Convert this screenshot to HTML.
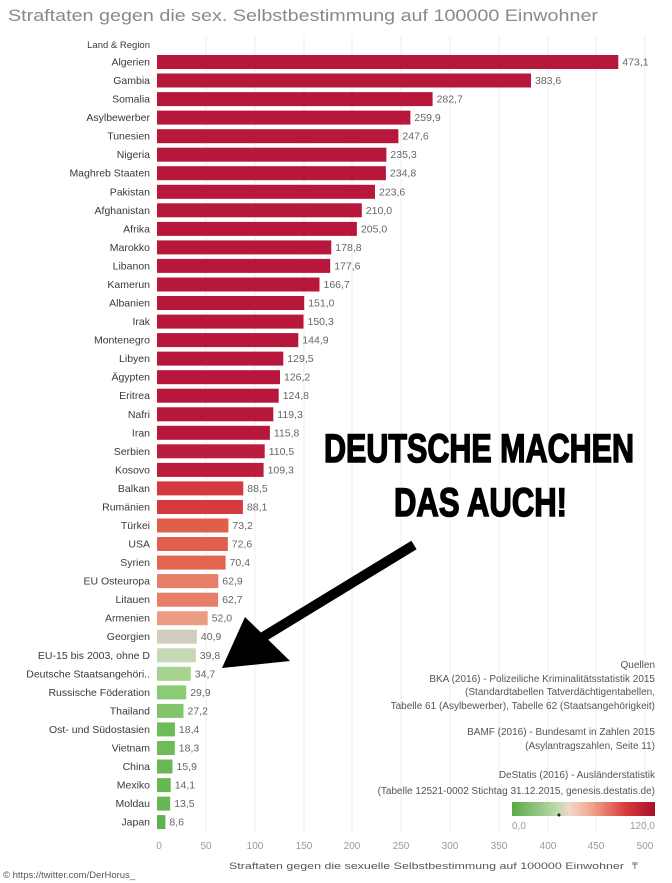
<!DOCTYPE html>
<html><head><meta charset="utf-8"><style>
html,body{margin:0;padding:0;background:#fff;}
svg{display:block;}
text{font-family:"Liberation Sans",sans-serif;}
.l{fill:#3a3a3a;text-anchor:end;font-size:10.5px;}
.v{fill:#666;font-size:10.5px;}
</style></head><body>
<svg width="672" height="883" viewBox="0 0 672 883" xmlns="http://www.w3.org/2000/svg">
<rect width="672" height="883" fill="#fff"/>
<text x="8" y="21" font-size="17" fill="#8a8a8a" textLength="590" lengthAdjust="spacingAndGlyphs">Straftaten gegen die sex. Selbstbestimmung auf 100000 Einwohner</text>
<g stroke="#ececec" stroke-width="1">
<line x1="206" y1="36" x2="206" y2="832"/><line x1="255" y1="36" x2="255" y2="832"/><line x1="304" y1="36" x2="304" y2="832"/><line x1="352" y1="36" x2="352" y2="832"/><line x1="401" y1="36" x2="401" y2="832"/><line x1="450" y1="36" x2="450" y2="832"/><line x1="499" y1="36" x2="499" y2="832"/><line x1="548" y1="36" x2="548" y2="832"/><line x1="596" y1="36" x2="596" y2="832"/><line x1="645" y1="36" x2="645" y2="832"/>
</g>
<text x="150" y="48" class="l" style="font-size:9.5px">Land &amp; Region</text>

<g transform="translate(0,62.0)"><text x="150" y="3.5" class="l">Algerien</text><rect x="157" y="-7" width="461.3" height="14" fill="#b8173c"/><text x="622.3" y="3.5" class="v">473,1</text></g>
<g transform="translate(0,80.5)"><text x="150" y="3.5" class="l">Gambia</text><rect x="157" y="-7" width="374.0" height="14" fill="#b8173c"/><text x="535" y="3.5" class="v">383,6</text></g>
<g transform="translate(0,99.1)"><text x="150" y="3.5" class="l">Somalia</text><rect x="157" y="-7" width="275.6" height="14" fill="#b8173c"/><text x="436.6" y="3.5" class="v">282,7</text></g>
<g transform="translate(0,117.6)"><text x="150" y="3.5" class="l">Asylbewerber</text><rect x="157" y="-7" width="253.4" height="14" fill="#b8173c"/><text x="414.4" y="3.5" class="v">259,9</text></g>
<g transform="translate(0,136.2)"><text x="150" y="3.5" class="l">Tunesien</text><rect x="157" y="-7" width="241.4" height="14" fill="#b8173c"/><text x="402.4" y="3.5" class="v">247,6</text></g>
<g transform="translate(0,154.7)"><text x="150" y="3.5" class="l">Nigeria</text><rect x="157" y="-7" width="229.4" height="14" fill="#b8173c"/><text x="390.4" y="3.5" class="v">235,3</text></g>
<g transform="translate(0,173.2)"><text x="150" y="3.5" class="l">Maghreb Staaten</text><rect x="157" y="-7" width="228.9" height="14" fill="#b8173c"/><text x="389.9" y="3.5" class="v">234,8</text></g>
<g transform="translate(0,191.8)"><text x="150" y="3.5" class="l">Pakistan</text><rect x="157" y="-7" width="218.0" height="14" fill="#b8173c"/><text x="379" y="3.5" class="v">223,6</text></g>
<g transform="translate(0,210.3)"><text x="150" y="3.5" class="l">Afghanistan</text><rect x="157" y="-7" width="204.8" height="14" fill="#b8173c"/><text x="365.8" y="3.5" class="v">210,0</text></g>
<g transform="translate(0,228.9)"><text x="150" y="3.5" class="l">Afrika</text><rect x="157" y="-7" width="199.9" height="14" fill="#b8173c"/><text x="360.9" y="3.5" class="v">205,0</text></g>
<g transform="translate(0,247.4)"><text x="150" y="3.5" class="l">Marokko</text><rect x="157" y="-7" width="174.3" height="14" fill="#b8173c"/><text x="335.3" y="3.5" class="v">178,8</text></g>
<g transform="translate(0,265.9)"><text x="150" y="3.5" class="l">Libanon</text><rect x="157" y="-7" width="173.2" height="14" fill="#b8173c"/><text x="334.2" y="3.5" class="v">177,6</text></g>
<g transform="translate(0,284.5)"><text x="150" y="3.5" class="l">Kamerun</text><rect x="157" y="-7" width="162.5" height="14" fill="#b8173c"/><text x="323.5" y="3.5" class="v">166,7</text></g>
<g transform="translate(0,303.0)"><text x="150" y="3.5" class="l">Albanien</text><rect x="157" y="-7" width="147.2" height="14" fill="#b8173c"/><text x="308.2" y="3.5" class="v">151,0</text></g>
<g transform="translate(0,321.6)"><text x="150" y="3.5" class="l">Irak</text><rect x="157" y="-7" width="146.5" height="14" fill="#b8173c"/><text x="307.5" y="3.5" class="v">150,3</text></g>
<g transform="translate(0,340.1)"><text x="150" y="3.5" class="l">Montenegro</text><rect x="157" y="-7" width="141.3" height="14" fill="#b8173c"/><text x="302.3" y="3.5" class="v">144,9</text></g>
<g transform="translate(0,358.6)"><text x="150" y="3.5" class="l">Libyen</text><rect x="157" y="-7" width="126.3" height="14" fill="#b8173c"/><text x="287.3" y="3.5" class="v">129,5</text></g>
<g transform="translate(0,377.2)"><text x="150" y="3.5" class="l">Ägypten</text><rect x="157" y="-7" width="123.0" height="14" fill="#b8173c"/><text x="284" y="3.5" class="v">126,2</text></g>
<g transform="translate(0,395.7)"><text x="150" y="3.5" class="l">Eritrea</text><rect x="157" y="-7" width="121.7" height="14" fill="#b8173c"/><text x="282.7" y="3.5" class="v">124,8</text></g>
<g transform="translate(0,414.3)"><text x="150" y="3.5" class="l">Nafri</text><rect x="157" y="-7" width="116.3" height="14" fill="#b8173c"/><text x="277.3" y="3.5" class="v">119,3</text></g>
<g transform="translate(0,432.8)"><text x="150" y="3.5" class="l">Iran</text><rect x="157" y="-7" width="112.9" height="14" fill="#b8173c"/><text x="273.9" y="3.5" class="v">115,8</text></g>
<g transform="translate(0,451.3)"><text x="150" y="3.5" class="l">Serbien</text><rect x="157" y="-7" width="107.7" height="14" fill="#bd1d3c"/><text x="268.7" y="3.5" class="v">110,5</text></g>
<g transform="translate(0,469.9)"><text x="150" y="3.5" class="l">Kosovo</text><rect x="157" y="-7" width="106.6" height="14" fill="#bd1d3c"/><text x="267.6" y="3.5" class="v">109,3</text></g>
<g transform="translate(0,488.4)"><text x="150" y="3.5" class="l">Balkan</text><rect x="157" y="-7" width="86.3" height="14" fill="#d53a3e"/><text x="247.3" y="3.5" class="v">88,5</text></g>
<g transform="translate(0,507.0)"><text x="150" y="3.5" class="l">Rumänien</text><rect x="157" y="-7" width="85.9" height="14" fill="#d53a3e"/><text x="246.9" y="3.5" class="v">88,1</text></g>
<g transform="translate(0,525.5)"><text x="150" y="3.5" class="l">Türkei</text><rect x="157" y="-7" width="71.4" height="14" fill="#e05e4c"/><text x="232.4" y="3.5" class="v">73,2</text></g>
<g transform="translate(0,544.0)"><text x="150" y="3.5" class="l">USA</text><rect x="157" y="-7" width="70.8" height="14" fill="#e05e4c"/><text x="231.8" y="3.5" class="v">72,6</text></g>
<g transform="translate(0,562.6)"><text x="150" y="3.5" class="l">Syrien</text><rect x="157" y="-7" width="68.6" height="14" fill="#e2654f"/><text x="229.6" y="3.5" class="v">70,4</text></g>
<g transform="translate(0,581.1)"><text x="150" y="3.5" class="l">EU Osteuropa</text><rect x="157" y="-7" width="61.3" height="14" fill="#e77e68"/><text x="222.3" y="3.5" class="v">62,9</text></g>
<g transform="translate(0,599.7)"><text x="150" y="3.5" class="l">Litauen</text><rect x="157" y="-7" width="61.1" height="14" fill="#e77e68"/><text x="222.1" y="3.5" class="v">62,7</text></g>
<g transform="translate(0,618.2)"><text x="150" y="3.5" class="l">Armenien</text><rect x="157" y="-7" width="50.7" height="14" fill="#eb9c84"/><text x="211.7" y="3.5" class="v">52,0</text></g>
<g transform="translate(0,636.7)"><text x="150" y="3.5" class="l">Georgien</text><rect x="157" y="-7" width="39.9" height="14" fill="#d2cebe"/><text x="200.9" y="3.5" class="v">40,9</text></g>
<g transform="translate(0,655.3)"><text x="150" y="3.5" class="l">EU-15 bis 2003, ohne D</text><rect x="157" y="-7" width="38.8" height="14" fill="#c6d8b6"/><text x="199.8" y="3.5" class="v">39,8</text></g>
<g transform="translate(0,673.8)"><text x="150" y="3.5" class="l">Deutsche Staatsangehöri..</text><rect x="157" y="-7" width="33.8" height="14" fill="#a6d48e"/><text x="194.8" y="3.5" class="v">34,7</text></g>
<g transform="translate(0,692.4)"><text x="150" y="3.5" class="l">Russische Föderation</text><rect x="157" y="-7" width="29.2" height="14" fill="#8ccb76"/><text x="190.2" y="3.5" class="v">29,9</text></g>
<g transform="translate(0,710.9)"><text x="150" y="3.5" class="l">Thailand</text><rect x="157" y="-7" width="26.5" height="14" fill="#80c56c"/><text x="187.5" y="3.5" class="v">27,2</text></g>
<g transform="translate(0,729.4)"><text x="150" y="3.5" class="l">Ost- und Südostasien</text><rect x="157" y="-7" width="17.9" height="14" fill="#6cbc5a"/><text x="178.9" y="3.5" class="v">18,4</text></g>
<g transform="translate(0,748.0)"><text x="150" y="3.5" class="l">Vietnam</text><rect x="157" y="-7" width="17.8" height="14" fill="#6cbc5a"/><text x="178.8" y="3.5" class="v">18,3</text></g>
<g transform="translate(0,766.5)"><text x="150" y="3.5" class="l">China</text><rect x="157" y="-7" width="15.5" height="14" fill="#68b956"/><text x="176.5" y="3.5" class="v">15,9</text></g>
<g transform="translate(0,785.1)"><text x="150" y="3.5" class="l">Mexiko</text><rect x="157" y="-7" width="13.7" height="14" fill="#66b854"/><text x="174.7" y="3.5" class="v">14,1</text></g>
<g transform="translate(0,803.6)"><text x="150" y="3.5" class="l">Moldau</text><rect x="157" y="-7" width="13.2" height="14" fill="#66b854"/><text x="174.2" y="3.5" class="v">13,5</text></g>
<g transform="translate(0,822.1)"><text x="150" y="3.5" class="l">Japan</text><rect x="157" y="-7" width="8.4" height="14" fill="#5fb34e"/><text x="169.4" y="3.5" class="v">8,6</text></g>

<g font-size="10" fill="#999" text-anchor="middle">
<text x="159" y="849">0</text><text x="206" y="849">50</text><text x="255" y="849">100</text><text x="304" y="849">150</text><text x="352" y="849">200</text><text x="401" y="849">250</text><text x="450" y="849">300</text><text x="499" y="849">350</text><text x="548" y="849">400</text><text x="596" y="849">450</text><text x="645" y="849">500</text>
</g>
<text x="229" y="869" font-size="9.5" fill="#555" textLength="395" lengthAdjust="spacingAndGlyphs">Straftaten gegen die sexuelle Selbstbestimmung auf 100000 Einwohner</text>
<text x="632" y="869" font-size="9" fill="#666">₸</text>
<text x="3" y="878" font-size="9.5" fill="#555">© https://twitter.com/DerHorus_</text>
<g font-size="10" fill="#555" text-anchor="end">
<text x="655" y="668">Quellen</text>
<text x="655" y="682">BKA (2016) - Polizeiliche Kriminalitätsstatistik 2015</text>
<text x="655" y="695">(Standardtabellen Tatverdächtigentabellen,</text>
<text x="655" y="709">Tabelle 61 (Asylbewerber), Tabelle 62 (Staatsangehörigkeit)</text>
<text x="655" y="735">BAMF (2016) - Bundesamt in Zahlen 2015</text>
<text x="655" y="749">(Asylantragszahlen, Seite 11)</text>
<text x="655" y="778">DeStatis (2016) - Ausländerstatistik</text>
<text x="655" y="794">(Tabelle 12521-0002 Stichtag 31.12.2015, genesis.destatis.de)</text>
</g>
<defs><linearGradient id="lg" x1="0" x2="1"><stop offset="0" stop-color="#5aaa46"/><stop offset="0.3" stop-color="#b8d8a8"/><stop offset="0.4" stop-color="#f0d8c8"/><stop offset="0.55" stop-color="#f0a890"/><stop offset="0.8" stop-color="#d83a3a"/><stop offset="1" stop-color="#a8102c"/></linearGradient></defs>
<rect x="512" y="802" width="143" height="14" fill="url(#lg)"/>
<circle cx="559" cy="815" r="1.5" fill="#222"/>
<text x="512" y="829" font-size="10" fill="#999">0,0</text>
<text x="655" y="829" font-size="10" fill="#999" text-anchor="end">120,0</text>
<g font-weight="bold" fill="#000" stroke="#000" stroke-width="1.5" font-size="40">
<text x="324" y="462" textLength="310" lengthAdjust="spacingAndGlyphs">DEUTSCHE MACHEN</text>
<text x="394" y="516" textLength="173" lengthAdjust="spacingAndGlyphs">DAS AUCH!</text>
</g>
<line x1="414" y1="545" x2="250" y2="645" stroke="#000" stroke-width="10"/>
<polygon points="222,668 245,617 290,661" fill="#000"/>
</svg>
</body></html>
